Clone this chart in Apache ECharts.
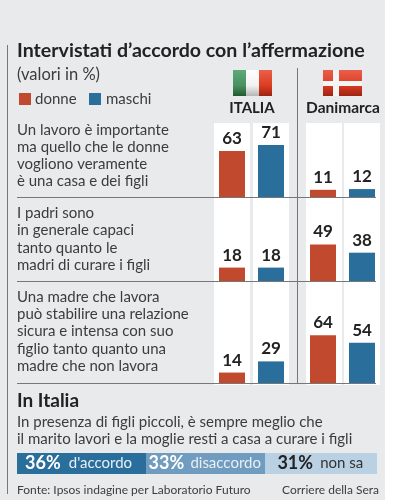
<!DOCTYPE html>
<html>
<head>
<meta charset="utf-8">
<style>
  html, body { margin: 0; padding: 0; background: #fff; }
  #chart { width: 394px; height: 500px; }
</style>
<script src="https://cdn.jsdelivr.net/npm/echarts@6/dist/echarts.min.js"></script>
</head>
<body>
<div id="chart"></div>
<script>
const sexes = ['donne', 'maschi']
const italia = [[63, 71], [18, 18], [14, 29]]
const danimarca = [[11, 12], [49, 38], [64, 54]]
const surveyLabels = ["d'accordo", 'disaccordo', 'non sa']
const surveyValues = [36, 33, 31]

const RED = '#c1492d'
const BLUE = '#2a6f9b'
const FONT = 'Lato, "Noto Sans", sans-serif'
const TEXT = '#3c3c3c'
const PX_PER_UNIT = 0.745

// y del tetto e della base di ogni riga
const rows = [[123, 198], [198, 281], [281, 383]]
const countries = [
  { left: 212.5, data: italia },
  { left: 303.5, data: danimarca },
]

const grids = []
const xAxes = []
const yAxes = []
const series = []

countries.forEach((c) => {
  rows.forEach(([top, bottom], r) => {
    const i = grids.length
    grids.push({ left: c.left, width: 78, top, height: bottom - top })
    xAxes.push({
      gridIndex: i,
      type: 'category',
      data: sexes,
      axisLine: { show: false },
      axisTick: { show: false },
      axisLabel: { show: false },
    })
    yAxes.push({
      gridIndex: i,
      type: 'value',
      min: 0,
      max: (bottom - top) / PX_PER_UNIT,
      show: false,
    })
    series.push({
      type: 'bar',
      xAxisIndex: i,
      yAxisIndex: i,
      z: 3,
      barWidth: 26,
      data: c.data[r].map((v, k) => ({ value: v, itemStyle: { color: k ? BLUE : RED } })),
      label: {
        show: true,
        position: 'top',
        distance: 4,
        color: '#222',
        fontFamily: FONT,
        fontWeight: 'bold',
        fontSize: 17,
      },
    })
  })
})

// barra in basso: 36 / 33 / 31
const stackIdx = grids.length
grids.push({ left: 17, width: 360, top: 453, height: 21 })
xAxes.push({ gridIndex: stackIdx, type: 'value', min: 0, max: 100, show: false })
yAxes.push({ gridIndex: stackIdx, type: 'category', data: ['Italia'], show: false })
const stackColors = ['#2a6f9b', '#6f9cbf', '#bad0e3']
const stackText = ['#fff', '#fff', '#222']
const stackSub = ['#e8eff5', '#e8eff5', '#333']
const stackGap = [2, 0, 1]
surveyValues.forEach((v, k) => {
  series.push({
    type: 'bar',
    stack: 'survey',
    xAxisIndex: stackIdx,
    yAxisIndex: stackIdx,
    barWidth: 21,
    data: [v],
    itemStyle: { color: stackColors[k] },
    label: {
      show: true,
      position: 'insideLeft',
      distance: k === 1 ? 2 : k === 2 ? 12 : 8,
      fontFamily: FONT,
      formatter: () => '{a|' + v + '%}  {b|' + surveyLabels[k] + '}',
      rich: {
        a: { fontFamily: FONT, fontWeight: 'bold', fontSize: 18, color: stackText[k] },
        b: { fontFamily: FONT, fontSize: 15, color: stackSub[k], padding: [0, 0, 0, stackGap[k]] },
      },
    },
  })
})

function txt(x, y, text, size, opts) {
  return {
    type: 'text',
    z: 5,
    x,
    y,
    style: Object.assign(
      { text, fill: TEXT, fontFamily: FONT, fontSize: size, textVerticalAlign: 'middle' },
      opts || {}
    ),
  }
}
function rect(x, y, w, h, fill, z) {
  return { type: 'rect', z: z == null ? 0 : z, shape: { x, y, width: w, height: h }, style: { fill } }
}
function line(x1, y1, x2, y2, color) {
  return { type: 'line', z: 4, shape: { x1, y1, x2, y2 }, style: { stroke: color, lineWidth: 1 } }
}
function shade(c1, c2, c3) {
  return {
    type: 'linear', x: 0, y: 0, x2: 0, y2: 1,
    colorStops: [{ offset: 0, color: c1 }, { offset: 0.6, color: c2 }, { offset: 1, color: c3 }],
  }
}

const graphic = [
  rect(0, 0, 385, 500, '#e9eaec'),
  rect(214, 123, 36, 262, '#fff', 1),
  rect(253, 123, 36, 262, '#fff', 1),
  rect(306, 123, 36, 262, '#fff', 1),
  rect(344, 123, 36, 262, '#fff', 1),
  line(7.5, 45, 7.5, 494, '#777'),
  line(17, 197.5, 376, 197.5, '#777'),
  line(17, 281.5, 376, 281.5, '#777'),
  line(17, 383.5, 376, 383.5, '#777'),
  line(297.5, 68, 297.5, 383, '#777'),
  // bandiere
  rect(233, 70, 13, 26, shade('#5fa877', '#4a9160', '#1f5a32'), 2),
  rect(246, 70, 13, 26, shade('#ffffff', '#f2f2f2', '#b5b5b5'), 2),
  rect(259, 70, 13, 26, shade('#e8604c', '#dd3c20', '#9c2412'), 2),
  rect(323, 70, 39, 26, shade('#e8604c', '#dc3a22', '#9c2412'), 2),
  rect(333, 70, 6, 26, '#f4f4f4', 2),
  rect(323, 81, 39, 5, '#f4f4f4', 2),
  // testi
  txt(17, 51, 'Intervistati d’accordo con l’affermazione', 19.6, { fontWeight: 'bold', fill: '#222' }),
  txt(17, 75, '(valori in %)', 16.5),
  rect(19, 93, 12, 12, RED, 2),
  txt(35, 99, 'donne', 15),
  rect(89, 93, 12, 12, BLUE, 2),
  txt(106, 99, 'maschi', 15),
  txt(252, 108, 'ITALIA', 15, { fontWeight: 'bold', fill: '#222', textAlign: 'center' }),
  txt(343, 108, 'Danimarca', 15.5, { fontWeight: 'bold', fill: '#222', textAlign: 'center' }),
]

const rowText = [
  [130, 17.2, ['Un lavoro è importante', 'ma quello che le donne', 'vogliono veramente', 'è una casa e dei figli']],
  [213, 17.5, ['I padri sono', 'in generale capaci', 'tanto quanto le', 'madri di curare i figli']],
  [297, 17.3, ['Una madre che lavora', 'può stabilire una relazione', 'sicura e intensa con suo', 'figlio tanto quanto una', 'madre che non lavora']],
]
rowText.forEach(([y0, step, lines]) => {
  lines.forEach((t, i) => graphic.push(txt(17, y0 + i * step, t, 15)))
})
graphic.push(
  txt(17, 401, 'In Italia', 19, { fontWeight: 'bold', fill: '#222' }),
  txt(17, 422, 'In presenza di figli piccoli, è sempre meglio che', 15),
  txt(17, 439, 'il marito lavori e la moglie resti a casa a curare i figli', 15),
  txt(17, 490, 'Fonte: Ipsos indagine per Laboratorio Futuro', 12),
  txt(379, 490, 'Corriere della Sera', 12, { textAlign: 'right' })
)

const chart = echarts.init(document.getElementById('chart'))
chart.setOption({
  animation: false,
  grid: grids,
  xAxis: xAxes,
  yAxis: yAxes,
  series,
  graphic: { elements: graphic },
})
</script>
</body>
</html>
